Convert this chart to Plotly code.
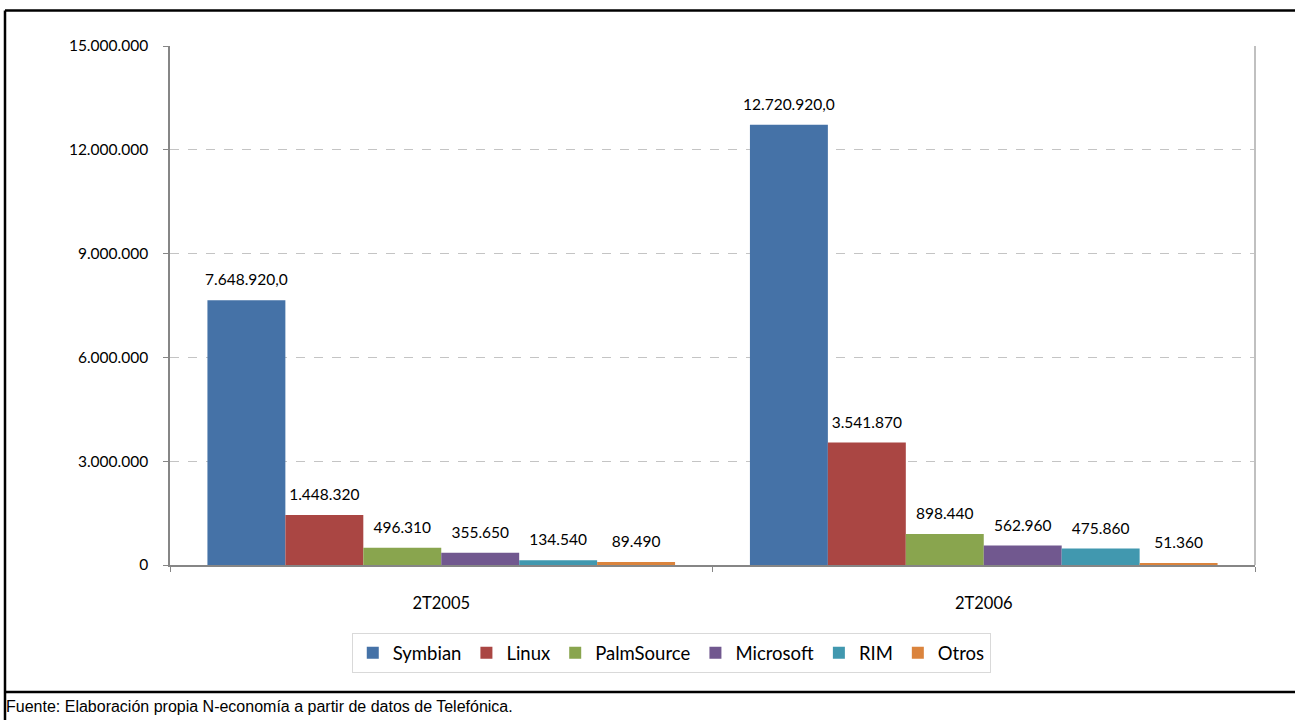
import plotly.graph_objects as go

categories = ["2T2005", "2T2006"]
series_names = ["Symbian", "Linux", "PalmSource", "Microsoft", "RIM", "Otros"]
symbian = [7648920, 12720920]
linux = [1448320, 3541870]
palmsource = [496310, 898440]
microsoft = [355650, 562960]
rim = [134540, 475860]
otros = [89490, 51360]
labels_symbian = ["7.648.920,0", "12.720.920,0"]
labels_linux = ["1.448.320", "3.541.870"]
labels_palmsource = ["496.310", "898.440"]
labels_microsoft = ["355.650", "562.960"]
labels_rim = ["134.540", "475.860"]
labels_otros = ["89.490", "51.360"]
y_ticks = [0, 3000000, 6000000, 9000000, 12000000, 15000000]
footer = "Fuente: Elaboración propia N-economía a partir de datos de Telefónica."

colors = ["#4572A7", "#AA4643", "#89A54E", "#71588F", "#4198AF", "#DB843D"]
values = [symbian, linux, palmsource, microsoft, rim, otros]
labels = [labels_symbian, labels_linux, labels_palmsource, labels_microsoft, labels_rim, labels_otros]

FONT = "Lato, Calibri, Carlito, sans-serif"

fig = go.Figure()
for name, vals, col in zip(series_names, values, colors):
    fig.add_trace(go.Bar(x=categories, y=vals, name=name, marker_color=col,
                         marker_line_width=0, hoverinfo="x+y+name"))
for name, vals, labs in zip(series_names, values, labels):
    fig.add_trace(go.Scatter(x=categories, y=vals, text=labs, mode="markers+text",
                             textposition="top center", showlegend=False,
                             marker=dict(size=16, color="rgba(0,0,0,0)"),
                             textfont=dict(family=FONT, size=15.5, color="#000000"),
                             hoverinfo="skip", cliponaxis=False))

fig.update_layout(
    width=1295, height=720,
    margin=dict(l=170, r=40, t=46, b=155),
    paper_bgcolor="white", plot_bgcolor="white",
    barmode="group", bargap=0.138, bargroupgap=0,
    scattermode="group", scattergap=0.138,
    separators=",.",
    font=dict(family=FONT, size=15.5, color="#000000"),
    showlegend=True,
    legend=dict(orientation="h", x=0.462, xanchor="center", y=-0.17, yanchor="middle",
                bordercolor="#D9D9D9", borderwidth=1, bgcolor="white",
                font=dict(family=FONT, size=18.5, color="#000000"),
                itemwidth=30, tracegroupgap=0),
)
fig.update_yaxes(range=[0, 15000000], tickvals=y_ticks, tickformat=",.0f",
                 showline=True, linecolor="#868686", linewidth=1.5,
                 ticks="outside", ticklen=5, tickcolor="#868686", ticklabelstandoff=12,
                 showgrid=True, gridcolor="#C4C4C4", griddash="dash", gridwidth=1,
                 zeroline=False, tickfont=dict(family=FONT, size=15.5))
fig.update_xaxes(showline=True, linecolor="#868686", linewidth=1.5,
                 ticks="outside", ticklen=5, tickcolor="#868686", tickson="boundaries",
                 ticklabelstandoff=22, showgrid=False,
                 tickfont=dict(family=FONT, size=16.5))

# plot area right border
fig.add_shape(type="line", xref="x domain", yref="y domain", x0=1, x1=1, y0=0, y1=1,
              line=dict(color="#C0C0C0", width=2))

# outer black frame (pixel -> paper conversions)
def px(xp):
    return (xp - 170) / 1085.0

def py(yp):
    return (565 - yp) / 519.0

frame = dict(color="#000000", width=2.5)
fig.add_shape(type="line", xref="paper", yref="paper", x0=px(5), x1=px(1310), y0=py(10.5), y1=py(10.5), line=frame)
fig.add_shape(type="line", xref="paper", yref="paper", x0=px(5), x1=px(1310), y0=py(692), y1=py(692), line=frame)
fig.add_shape(type="line", xref="paper", yref="paper", x0=px(5), x1=px(5), y0=py(10.5), y1=py(730), line=frame)

fig.add_annotation(text=footer, xref="paper", yref="paper", x=px(4), y=py(706),
                   xanchor="left", yanchor="middle", showarrow=False,
                   font=dict(family="Liberation Sans, Arial, sans-serif", size=16, color="#000000"))

fig.write_html("out.html", config={"displayModeBar": False},
               post_script="document.body.style.margin='0';document.body.style.overflow='hidden';")
